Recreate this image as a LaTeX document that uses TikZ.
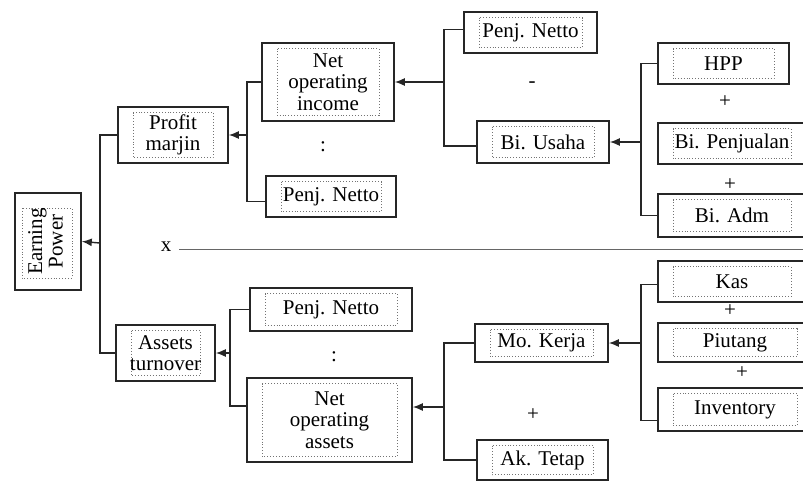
\documentclass[tikz,border=0pt]{standalone}
\usepackage{fontspec}
\setmainfont{Liberation Serif}
\usetikzlibrary{arrows.meta}
\tikzset{
  box/.style={draw=black!85, line width=1.6pt, inner sep=0pt, align=center,
    font=\fontsize{21}{21.5}\selectfont,
    path picture={\draw[dotted, black!55, line width=0.9pt]
      ([xshift=15pt,yshift=-5.5pt]path picture bounding box.north west) rectangle
      ([xshift=-15pt,yshift=5.5pt]path picture bounding box.south east);}},
  epbox/.style={draw=black!85, line width=1.6pt, inner sep=0pt, align=center,
    font=\fontsize{21}{21.5}\selectfont,
    path picture={\draw[dotted, black!55, line width=0.9pt]
      ([xshift=7pt,yshift=-15pt]path picture bounding box.north west) rectangle
      ([xshift=-9pt,yshift=12pt]path picture bounding box.south east);}},
  conn/.style={draw=black!85, line width=1.4pt},
  arr/.style={conn, -{Latex[length=10pt,width=8pt]}},
  op/.style={inner sep=0pt, font=\fontsize{21}{21}\selectfont},
}
\begin{document}
\begin{tikzpicture}[x=1pt,y=-1pt]
\useasboundingbox (0,0) rectangle (803,482);
% boxes
\node[epbox, minimum width=66pt, minimum height=97pt] (EP) at (48,241.5)
  {\rotatebox{90}{\begin{tabular}{@{}c@{}}Earning\\[-1pt]Power\end{tabular}}};
\node[box, minimum width=110pt, minimum height=56pt] (PM) at (173,135) {Profit\\marjin};
\node[box, minimum width=132pt, minimum height=78pt] (NOI) at (328,82) {Net\\operating\\income};
\node[box, minimum width=130pt, minimum height=41pt] (PN1) at (331,196.5) {Penj. Netto};
\node[box, minimum width=133pt, minimum height=41pt] (PN0) at (530.5,32.5) {Penj. Netto};
\node[box, minimum width=132pt, minimum height=42pt] (BU) at (543,142) {Bi. Usaha};
\node[box, minimum width=131pt, minimum height=41pt] (HPP) at (723.5,63.5) {HPP};
\node[box, minimum width=148pt, minimum height=41pt] (BP) at (732,143.5) {Bi. Penjualan};
\node[box, minimum width=148pt, minimum height=43pt] (BA) at (732,215.5) {Bi. Adm};
\node[box, minimum width=99pt, minimum height=56pt] (AT) at (165.5,353) {Assets\\turnover};
\node[box, minimum width=162pt, minimum height=43pt] (PN2) at (331,309.5) {Penj. Netto};
\node[box, minimum width=165pt, minimum height=84pt] (NOA) at (329.5,420) {Net\\operating\\assets};
\node[box, minimum width=133pt, minimum height=38pt] (MK) at (541.5,343) {Mo. Kerja};
\node[box, minimum width=131pt, minimum height=40pt] (AKT) at (542.5,460) {Ak. Tetap};
\node[box, minimum width=148pt, minimum height=41pt] (KAS) at (732,281.5) {Kas};
\node[box, minimum width=154pt, minimum height=39pt] (PIU) at (735,342.5) {Piutang};
\node[box, minimum width=154pt, minimum height=43pt] (INV) at (735,409.5) {Inventory};
% operators
\node[op] (o1) at (323,147) {:};
\node[op] (o2) at (532,85) {-};
\node[op] (o3) at (725,102) {+};
\node[op] (o4) at (730,185) {+};
\node[op] (o5) at (334,357) {:};
\node[op] (o6) at (533,415) {+};
\node[op] (o7) at (730,311) {+};
\node[op] (o8) at (742,373) {+};
% separator
\node[op] (X) at (166,247) {x};
\coordinate (Xend) at (803,249);
\draw[draw=black!60, line width=0.9pt] ([xshift=8pt]X.east |- Xend) -- (Xend);
% junctions
\coordinate (j0) at (100,243);
\coordinate (j1) at (247,135);
\coordinate (j2) at (444,82);
\coordinate (j3) at (641,142);
\coordinate (j4) at (230,353);
\coordinate (j5) at (444,407);
\coordinate (j6) at (641,343);
% connectors
\draw[conn] (PM.west) -| (j0) |- (AT.west);
\draw[arr] (j0) -- (EP.east);
\draw[conn] (NOI.west) -| (j1) |- ([yshift=-5pt]PN1.west);
\draw[arr] (j1) -- (PM.east);
\draw[conn] ([yshift=3pt]PN0.west) -| (j2) |- ([yshift=-4pt]BU.west);
\draw[arr] (j2) -- (NOI.east);
\draw[conn] (HPP.west) -| (j3) |- (BA.west);
\draw[arr] (j3) -- (BU.east);
\draw[conn] (PN2.west) -| (j4) |- ([yshift=14pt]NOA.west);
\draw[arr] (j4) -- (AT.east);
\draw[conn] (MK.west) -| (j5) |- (AKT.west);
\draw[arr] (j5) -- ([yshift=13pt]NOA.east);
\draw[conn] ([yshift=-3pt]KAS.west) -| (j6) |- ([yshift=-11pt]INV.west);
\draw[arr] (j6) -- (MK.east);
\end{tikzpicture}
\end{document}
